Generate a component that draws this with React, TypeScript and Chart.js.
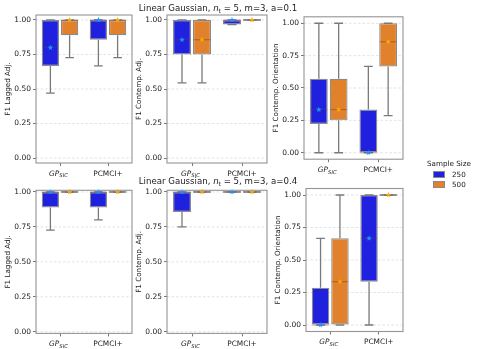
import React, { useEffect, useRef } from 'react';
import { Chart, registerables } from 'chart.js';

Chart.register(...registerables);

const W = 478;
const H = 349;
const FONT = "'DejaVu Sans', sans-serif";

// ---------- data ----------
const categories = ['GP_SIC', 'PCMCI+'];
const sampleSizes = ['250', '500'];
const yTicks = [0, 0.25, 0.5, 0.75, 1.0];
const yTickLabels = ['0.00', '0.25', '0.50', '0.75', '1.00'];
const yAxisTitles = ['F1 Lagged Adj.', 'F1 Contemp. Adj.', 'F1 Contemp. Orientation'];
const rowTitleParams = ['a=0.1', 'a=0.4'];

// per category: [lower whisker, q1, median, q3, upper whisker]
const a01Lagged250 = [[0.47, 0.667, 0.8, 1, 1], [0.667, 0.857, 1, 1, 1]];
const a01Lagged500 = [[0.727, 0.889, 1, 1, 1], [0.727, 0.889, 1, 1, 1]];
const a01Contemp250 = [[0.545, 0.75, 0.857, 1, 1], [0.967, 0.967, 1, 1, 1]];
const a01Contemp500 = [[0.545, 0.75, 0.857, 1, 1], [1, 1, 1, 1, 1]];
const a01Orient250 = [[0, 0.222, 0.333, 0.571, 1], [0, 0, 0, 0.333, 0.667]];
const a01Orient500 = [[0, 0.25, 0.333, 0.571, 1], [0.286, 0.667, 0.857, 1, 1]];
const a04Lagged250 = [[0.727, 0.889, 1, 1, 1], [0.8, 0.889, 1, 1, 1]];
const a04Lagged500 = [[1, 1, 1, 1, 1], [1, 1, 1, 1, 1]];
const a04Contemp250 = [[0.75, 0.857, 1, 1, 1], [1, 1, 1, 1, 1]];
const a04Contemp500 = [[1, 1, 1, 1, 1], [1, 1, 1, 1, 1]];
const a04Orient250 = [[0, 0, 0, 0.286, 0.667], [0, 0.333, 0.667, 1, 1]];
const a04Orient500 = [[0, 0, 0.333, 0.667, 1], [1, 1, 1, 1, 1]];

// ---------- style ----------
const fillColors = ['#2020df', '#e1812c'];
const markerColors = ['#1e90ff', '#ffa500'];
const edgeGray = '#8a8a8a';
const whiskerGray = '#7a7a7a';
const spineGray = '#949494';

type Panel = {
  yTitle: string;
  s250: number[][];
  s500: number[][];
  left: number;
  right: number;
  top: number;
  bottom: number;
  ymin: number;
  ymax: number;
};

const panels: Panel[] = [
  { yTitle: yAxisTitles[0], s250: a01Lagged250, s500: a01Lagged500, left: 36, right: 132, top: 15, bottom: 163, ymin: -0.036, ymax: 1.036 },
  { yTitle: yAxisTitles[1], s250: a01Contemp250, s500: a01Contemp500, left: 167, right: 267, top: 15, bottom: 163, ymin: -0.036, ymax: 1.036 },
  { yTitle: yAxisTitles[2], s250: a01Orient250, s500: a01Orient500, left: 304, right: 403, top: 16.8, bottom: 159.2, ymin: -0.05, ymax: 1.05 },
  { yTitle: yAxisTitles[0], s250: a04Lagged250, s500: a04Lagged500, left: 36, right: 132, top: 190.3, bottom: 333.4, ymin: -0.012, ymax: 1.012 },
  { yTitle: yAxisTitles[1], s250: a04Contemp250, s500: a04Contemp500, left: 167, right: 267, top: 190.3, bottom: 333.4, ymin: -0.012, ymax: 1.012 },
  { yTitle: yAxisTitles[2], s250: a04Orient250, s500: a04Orient500, left: 306, right: 403, top: 188.5, bottom: 331.5, ymin: -0.05, ymax: 1.05 },
];

function drawStar(ctx: CanvasRenderingContext2D, cx: number, cy: number, R: number, r: number) {
  ctx.beginPath();
  for (let i = 0; i < 10; i++) {
    const ang = -Math.PI / 2 + (i * Math.PI) / 5;
    const rad = i % 2 === 0 ? R : r;
    const x = cx + rad * Math.cos(ang);
    const y = cy + rad * Math.sin(ang);
    if (i === 0) ctx.moveTo(x, y);
    else ctx.lineTo(x, y);
  }
  ctx.closePath();
  ctx.fill();
}

function makeBoxPlugin(p: Panel) {
  const stats = [p.s250, p.s500];
  return {
    id: 'boxdraw',
    beforeDatasetsDraw(chart: any) {
      const { ctx, chartArea: a, scales } = chart;
      const y = scales.y;
      ctx.save();
      ctx.strokeStyle = '#dcdcdc';
      ctx.lineWidth = 0.8;
      ctx.setLineDash([2.5, 2]);
      for (const t of yTicks) {
        const py = y.getPixelForValue(t);
        ctx.beginPath();
        ctx.moveTo(a.left, py);
        ctx.lineTo(a.right, py);
        ctx.stroke();
      }
      ctx.restore();
    },
    afterDatasetsDraw(chart: any) {
      const { ctx, chartArea: a, scales } = chart;
      const y = scales.y;
      const xs = scales.x;
      ctx.save();
      chart.data.datasets.forEach((_ds: any, di: number) => {
        const meta = chart.getDatasetMeta(di);
        meta.data.forEach((bar: any, ci: number) => {
          const [lo, q1, med, q3, hi] = stats[di][ci];
          const { x, width } = bar.getProps(['x', 'width'], true);
          const half = width / 2;
          const cap = width / 4;
          const pLo = y.getPixelForValue(lo);
          const pQ1 = y.getPixelForValue(q1);
          const pMed = y.getPixelForValue(med);
          const pQ3 = y.getPixelForValue(q3);
          const pHi = y.getPixelForValue(hi);
          ctx.strokeStyle = whiskerGray;
          ctx.lineWidth = 1.3;
          ctx.beginPath();
          ctx.moveTo(x, pQ1);
          ctx.lineTo(x, pLo);
          ctx.moveTo(x - cap, pLo);
          ctx.lineTo(x + cap, pLo);
          ctx.moveTo(x, pQ3);
          ctx.lineTo(x, pHi);
          ctx.moveTo(x - cap, pHi);
          ctx.lineTo(x + cap, pHi);
          ctx.stroke();
          if (q1 === q3) {
            ctx.beginPath();
            ctx.moveTo(x - half, pQ1);
            ctx.lineTo(x + half, pQ1);
            ctx.stroke();
          }
          ctx.strokeStyle = 'rgba(90,70,50,0.45)';
          ctx.lineWidth = 1.1;
          ctx.beginPath();
          ctx.moveTo(x - half + 0.6, pMed);
          ctx.lineTo(x + half - 0.6, pMed);
          ctx.stroke();
          ctx.fillStyle = markerColors[di];
          drawStar(ctx, x, pMed, 2.9, 1.3);
        });
      });
      // frame
      ctx.strokeStyle = spineGray;
      ctx.lineWidth = 1.1;
      ctx.strokeRect(a.left, a.top, a.right - a.left, a.bottom - a.top);
      // y title
      ctx.fillStyle = '#222';
      ctx.font = `7.2px ${FONT}`;
      ctx.textAlign = 'center';
      ctx.textBaseline = 'middle';
      ctx.save();
      ctx.translate(a.left - 28, (a.top + a.bottom) / 2);
      ctx.rotate(-Math.PI / 2);
      ctx.fillText(p.yTitle, 0, 0);
      ctx.restore();
      // x labels
      categories.forEach((c, ci) => {
        const cx = xs.getPixelForValue(ci);
        const ty = a.bottom + 11;
        if (c.includes('_')) {
          const [main, sub] = c.split('_');
          ctx.font = `italic 7.4px ${FONT}`;
          const w1 = ctx.measureText(main).width;
          ctx.font = `italic 5.3px ${FONT}`;
          const w2 = ctx.measureText(sub).width;
          const start = cx - (w1 + w2) / 2 - 1.5;
          ctx.textAlign = 'left';
          ctx.textBaseline = 'middle';
          ctx.font = `italic 7.4px ${FONT}`;
          ctx.fillText(main, start, ty);
          ctx.font = `italic 5.3px ${FONT}`;
          ctx.fillText(sub, start + w1, ty + 2);
        } else {
          ctx.font = `7.4px ${FONT}`;
          ctx.textAlign = 'center';
          ctx.textBaseline = 'middle';
          ctx.fillText(c, cx, ty);
        }
      });
      ctx.restore();
    },
  };
}

function PanelChart({ p }: { p: Panel }) {
  const ref = useRef<HTMLCanvasElement>(null);
  useEffect(() => {
    if (!ref.current) return;
    const L = 40;
    const B = 8;
    const chart = new Chart(ref.current, {
      type: 'bar',
      data: {
        labels: categories,
        datasets: [
          { label: sampleSizes[0], data: p.s250.map((s) => [s[1], s[3]]) as any, backgroundColor: fillColors[0] },
          { label: sampleSizes[1], data: p.s500.map((s) => [s[1], s[3]]) as any, backgroundColor: fillColors[1] },
        ],
      },
      options: {
        responsive: false,
        animation: false,
        events: [],
        layout: { padding: { left: p.left - L, top: p.top, right: W - p.right, bottom: H - p.bottom - B } },
        plugins: { legend: { display: false }, tooltip: { enabled: false }, title: { display: false } },
        datasets: {
          bar: { categoryPercentage: 0.8, barPercentage: 0.9, borderColor: edgeGray, borderWidth: 1.2, borderSkipped: false } as any,
        },
        scales: {
          x: {
            type: 'category',
            offset: true,
            grid: { display: true, offset: false, drawOnChartArea: false, drawTicks: true, tickLength: 3, tickColor: '#777', tickWidth: 1, color: 'rgba(0,0,0,0)' },
            border: { display: false },
            ticks: { display: false },
            afterFit: (s: any) => { s.height = B; },
          },
          y: {
            type: 'linear',
            min: p.ymin,
            max: p.ymax,
            afterBuildTicks: (s: any) => { s.ticks = yTicks.map((v) => ({ value: v })); },
            ticks: {
              callback: (_v: any, i: number) => yTickLabels[i],
              font: { family: FONT, size: 7.5 },
              color: '#1a1a1a',
              padding: 2,
            },
            grid: { display: true, drawOnChartArea: false, drawTicks: true, tickLength: 3, tickColor: '#777', tickWidth: 1, color: 'rgba(0,0,0,0)' },
            border: { display: false },
            afterFit: (s: any) => { s.width = L; },
          },
        },
      } as any,
      plugins: [makeBoxPlugin(p) as any],
    });
    return () => chart.destroy();
  }, [p]);
  return <canvas ref={ref} width={W} height={H} style={{ position: 'absolute', left: 0, top: 0, width: W, height: H }} />;
}

function RowTitle({ cy, param }: { cy: number; param: string }) {
  return (
    <div
      style={{
        position: 'absolute',
        left: 218 - 150,
        width: 300,
        top: cy - 6,
        height: 12,
        lineHeight: '12px',
        textAlign: 'center',
        fontFamily: FONT,
        fontSize: 8.6,
        color: '#1a1a1a',
        whiteSpace: 'nowrap',
      }}
    >
      Linear Gaussian, <i>n</i>
      <span style={{ fontSize: 6, position: 'relative', top: 2 }}>t</span> = 5, m=3, {param}
    </div>
  );
}

function Legend() {
  const item = (i: number, top: number) => (
    <div key={i} style={{ position: 'absolute', left: 433, top, height: 8 }}>
      <div style={{ position: 'absolute', left: 0, top: 0, width: 12, height: 7, background: fillColors[i], border: `1px solid ${edgeGray}`, boxSizing: 'border-box' }} />
      <div style={{ position: 'absolute', left: 19, top: -1.5, fontFamily: FONT, fontSize: 7.2, lineHeight: '10px', color: '#1a1a1a' }}>{sampleSizes[i]}</div>
    </div>
  );
  return (
    <>
      <div style={{ position: 'absolute', left: 420, width: 58, top: 159, textAlign: 'center', fontFamily: FONT, fontSize: 7.2, lineHeight: '10px', color: '#1a1a1a' }}>
        Sample Size
      </div>
      {item(0, 171)}
      {item(1, 181)}
    </>
  );
}

export default function App() {
  return (
    <div style={{ position: 'fixed', left: 0, top: 0, width: W, height: H, background: '#fff', overflow: 'hidden' }}>
      {panels.map((p, i) => (
        <PanelChart key={i} p={p} />
      ))}
      <RowTitle cy={8} param={rowTitleParams[0]} />
      <RowTitle cy={181} param={rowTitleParams[1]} />
      <Legend />
    </div>
  );
}
